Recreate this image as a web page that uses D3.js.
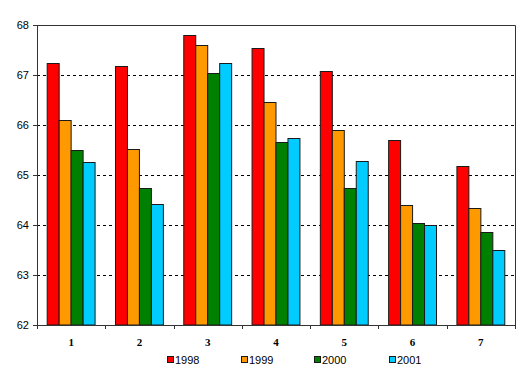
<!DOCTYPE html>
<html>
<head>
<meta charset="utf-8">
<script src="https://cdn.jsdelivr.net/npm/d3@7"></script>
<style>
  body { margin: 0; background: #fff; }
  svg { display: block; }
</style>
</head>
<body>
<div id="chart"></div>
<script>
// chart data
const categories = ['1', '2', '3', '4', '5', '6', '7'];
const seriesNames = ['1998', '1999', '2000', '2001'];
const values1998 = [67.23, 67.17, 67.79, 67.53, 67.07, 65.69, 65.17];
const values1999 = [66.09, 65.51, 67.59, 66.45, 65.89, 64.39, 64.33];
const values2000 = [65.49, 64.73, 67.03, 65.65, 64.73, 64.03, 63.85];
const values2001 = [65.25, 64.41, 67.23, 65.73, 65.27, 63.99, 63.49];
const yTicks = [62, 63, 64, 65, 66, 67, 68];

const seriesValues = [values1998, values1999, values2000, values2001];
const colors = ['#ff0000', '#ff9900', '#008000', '#00ccff'];

const width = 530;
const height = 373;
const margin = { top: 25, right: 15, bottom: 48, left: 37 };
const innerW = width - margin.left - margin.right;
const innerH = height - margin.top - margin.bottom;

const svg = d3.select('#chart').append('svg')
  .attr('width', width)
  .attr('height', height);

const g = svg.append('g')
  .attr('transform', 'translate(' + margin.left + ',' + margin.top + ')');

const x = d3.scaleBand().domain(categories).range([0, innerW]).paddingInner(0).paddingOuter(0);
const xs = d3.scaleBand().domain(seriesNames).range([10.2, x.bandwidth() - 10.2]).padding(0);
const y = d3.scaleLinear().domain([62, 68]).range([innerH, 0]);

// dashed gridlines
g.selectAll('line.grid')
  .data(yTicks.filter(function (t) { return t > 62 && t < 68; }))
  .enter().append('line')
  .attr('class', 'grid')
  .attr('x1', 0).attr('x2', innerW)
  .attr('y1', function (d) { return Math.round(y(d)) + 0.5; })
  .attr('y2', function (d) { return Math.round(y(d)) + 0.5; })
  .attr('stroke', '#000')
  .attr('stroke-width', 1)
  .attr('stroke-dasharray', '3,3');

// bars
const rows = [];
categories.forEach(function (c, i) {
  seriesNames.forEach(function (s, j) {
    rows.push({ cat: c, series: s, value: seriesValues[j][i], color: colors[j] });
  });
});

g.selectAll('rect.bar')
  .data(rows)
  .enter().append('rect')
  .attr('class', 'bar')
  .attr('x', function (d) { return x(d.cat) + xs(d.series); })
  .attr('y', function (d) { return y(d.value); })
  .attr('width', xs.bandwidth())
  .attr('height', function (d) { return innerH - y(d.value); })
  .attr('fill', function (d) { return d.color; })
  .attr('stroke', '#1a1a1a')
  .attr('stroke-width', 1);

// plot frame (top and right)
g.append('path')
  .attr('d', 'M0,0.5H' + (innerW + 0.5) + 'V' + innerH)
  .attr('fill', 'none')
  .attr('stroke', '#333')
  .attr('stroke-width', 1);

// y axis
const yAxis = g.append('g')
  .call(d3.axisLeft(y).tickValues(yTicks).tickSize(4).tickPadding(4).tickFormat(d3.format('d')));
yAxis.select('.domain').attr('stroke', '#333');
yAxis.selectAll('.tick line').attr('stroke', '#333');
yAxis.selectAll('text')
  .attr('fill', '#000')
  .style('font-family', 'Arial, "Liberation Sans", sans-serif')
  .style('font-size', '11px');

// x axis: ticks at category boundaries
const xAxisG = g.append('g').attr('transform', 'translate(0,' + innerH + ')');
xAxisG.append('line')
  .attr('x1', 0).attr('x2', innerW + 0.5)
  .attr('y1', 0.5).attr('y2', 0.5)
  .attr('stroke', '#333');
const bounds = categories.map(function (c) { return x(c); }).concat([innerW]);
xAxisG.selectAll('line.xt')
  .data(bounds)
  .enter().append('line')
  .attr('class', 'xt')
  .attr('x1', function (d) { return Math.round(d) + 0.5; })
  .attr('x2', function (d) { return Math.round(d) + 0.5; })
  .attr('y1', 0).attr('y2', 4)
  .attr('stroke', '#333');
xAxisG.selectAll('text')
  .data(categories)
  .enter().append('text')
  .attr('x', function (d) { return x(d) + x.bandwidth() / 2; })
  .attr('y', 21)
  .attr('text-anchor', 'middle')
  .style('font-family', '"Liberation Serif", "Times New Roman", serif')
  .style('font-size', '11px')
  .style('font-weight', 'bold')
  .text(function (d) { return d; });

// legend
const legendX = [167, 241, 314, 389];
const legend = svg.append('g').attr('transform', 'translate(0,356)');
const items = legend.selectAll('g')
  .data(seriesNames)
  .enter().append('g')
  .attr('transform', function (d, i) { return 'translate(' + legendX[i] + ',0)'; });
items.append('rect')
  .attr('x', 0.5).attr('y', 0.5)
  .attr('width', 6).attr('height', 6)
  .attr('fill', function (d, i) { return colors[i]; })
  .attr('stroke', '#1a1a1a');
items.append('text')
  .attr('x', 8)
  .attr('y', 7.5)
  .style('font-family', 'Arial, "Liberation Sans", sans-serif')
  .style('font-size', '11px')
  .text(function (d) { return d; });
</script>
</body>
</html>
